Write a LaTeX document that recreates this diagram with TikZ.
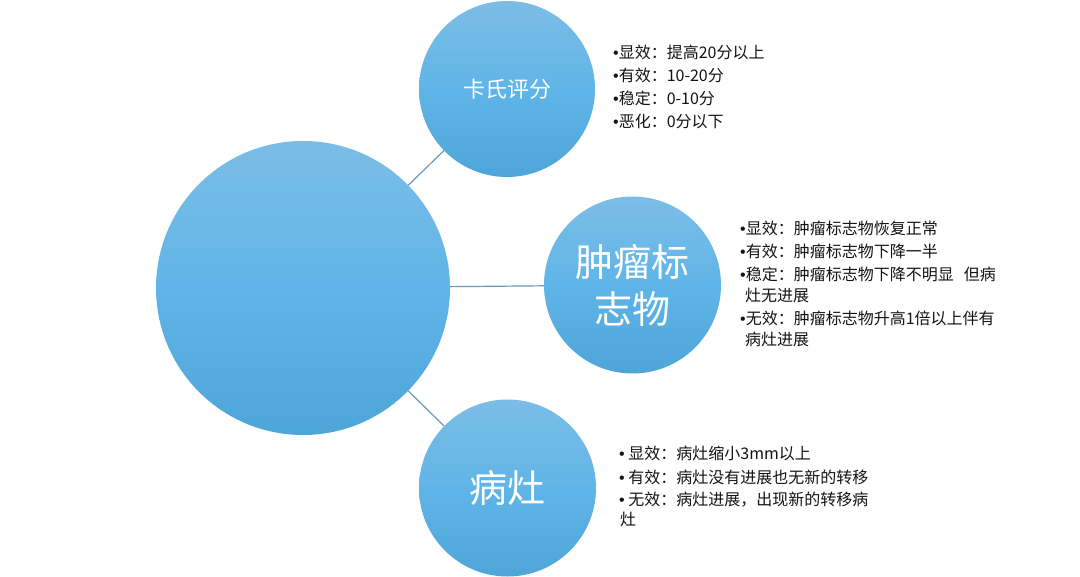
\documentclass[tikz,border=0pt]{standalone}
\usepackage{fontspec}
\setmainfont{Noto Sans CJK SC}
\newfontfamily\bulfont{Liberation Sans}
\definecolor{ctop}{RGB}{123,189,230}
\definecolor{cmid}{RGB}{96,181,232}
\definecolor{cbot}{RGB}{78,165,216}
\definecolor{lnk}{RGB}{104,152,186}
\definecolor{txt}{RGB}{20,20,20}
\newcommand\mybul{{\bulfont •}}
\tikzset{
  bub/.style={circle, inner sep=0pt, top color=ctop, bottom color=cbot, middle color=cmid, text=white, align=center},
  item/.style={anchor=base west, inner sep=0pt, font=\fontsize{16}{20}\selectfont, text=txt},
  link/.style={draw=lnk, line width=1.2pt}
}
\begin{document}
\begin{tikzpicture}[x=1pt,y=-1pt]
\useasboundingbox[fill=white] (0,0) rectangle (1080,577);
\node[bub, minimum size=294pt] (big) at (303,288) {};
\node[bub, minimum size=176pt, font=\fontsize{22}{26}\selectfont] (kps) at (507,89) {卡氏评分};
\node[bub, minimum size=177pt, font=\fontsize{38}{47}\selectfont] (tm) at (632.5,285) {肿瘤标\\志物};
\node[bub, minimum size=177pt, font=\fontsize{38}{46}\selectfont] (lesion) at (507.5,488) {病灶};
\draw[link] (big) -- (kps);
\draw[link] (big) -- (tm);
\draw[link] (big) -- (lesion);
% top list
\node[item] (t1) at (613,59) {\mybul 显效：提高20分以上};
\node[item] (t2) at (613,82) {\mybul 有效：10-20分};
\node[item] (t3) at (613,105) {\mybul 稳定：0-10分};
\node[item] (t4) at (613,128) {\mybul 恶化：0分以下};
% middle list
\node[item] (m1) at (740,235) {\mybul 显效：肿瘤标志物恢复正常};
\node[item] (m2) at (740,258) {\mybul 有效：肿瘤标志物下降一半};
\node[item] (m3) at (740,281) {\mybul 稳定：肿瘤标志物下降不明显\hspace{10pt}但病};
\node[item] (m4) at (745,302) {灶无进展};
\node[item] (m5) at (740,325) {\mybul 无效：肿瘤标志物升高1倍以上伴有};
\node[item] (m6) at (745,346) {病灶进展};
% bottom list
\node[item] (b1) at (619,460) {\mybul\ 显效：病灶缩小3mm以上};
\node[item] (b2) at (619,483) {\mybul\ 有效：病灶没有进展也无新的转移};
\node[item] (b3) at (619,505) {\mybul\ 无效：病灶进展，出现新的转移病};
\node[item] (b4) at (620,525) {灶};
\end{tikzpicture}
\end{document}
